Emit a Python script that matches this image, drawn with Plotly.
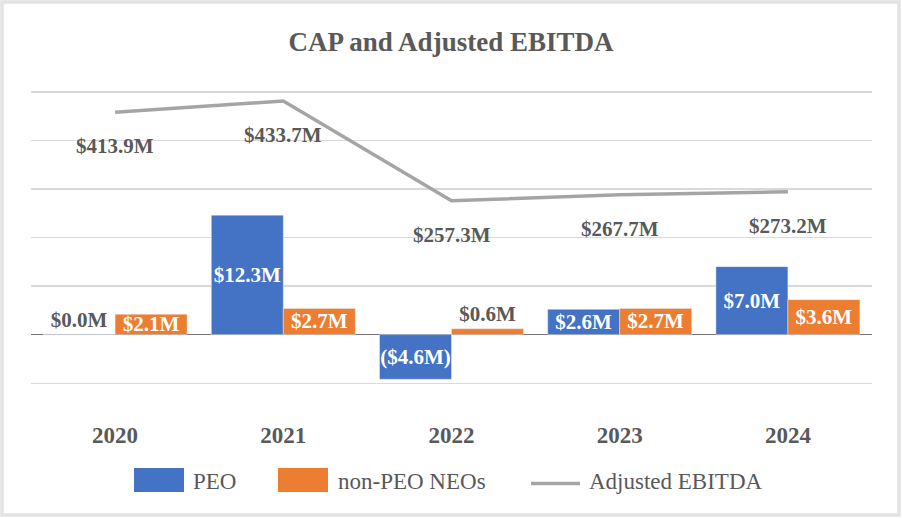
import plotly.graph_objects as go

years = ["2020", "2021", "2022", "2023", "2024"]
peo = [0.0, 12.3, -4.6, 2.6, 7.0]
neo = [2.1, 2.7, 0.6, 2.7, 3.6]
ebitda = [413.9, 433.7, 257.3, 267.7, 273.2]

series_names = ["PEO", "non-PEO NEOs", "Adjusted EBITDA"]
colors = ["#4472C4", "#ED7D31", "#A5A5A5"]

peo_pos = ["outside", "inside", "inside", "inside", "inside"]
neo_pos = ["inside", "inside", "outside", "inside", "inside"]


def money(v):
    return f"(${abs(v):.1f}M)" if v < 0 else f"${v:.1f}M"


FONT = "Liberation Serif"
GRAY = "#595959"
W, H = 902, 518
L, R, T, B = 31, 30, 87, 130
PW, PH = W - L - R, H - T - B
BOTTOM = H - B


def px(xp):
    return (xp - L) / PW


def py(yp):
    return (BOTTOM - yp) / PH


lbl_in = dict(family=FONT, size=21, color="white", weight="bold")
lbl_out = dict(family=FONT, size=21, color=GRAY, weight="bold")

fig = go.Figure()
fig.add_trace(go.Bar(
    name=series_names[0], x=years, y=peo, marker_color=colors[0],
    text=[money(v) for v in peo], textposition=peo_pos, textangle=0,
    insidetextanchor="middle", cliponaxis=False,
    insidetextfont=lbl_in, outsidetextfont=lbl_out,
    hoverinfo="skip", showlegend=False,
))
fig.add_trace(go.Bar(
    name=series_names[1], x=years, y=neo, marker_color=colors[1],
    text=[money(v) for v in neo], textposition=neo_pos, textangle=0,
    insidetextanchor="middle", cliponaxis=False,
    insidetextfont=lbl_in, outsidetextfont=lbl_out,
    hoverinfo="skip", showlegend=False,
))
fig.add_trace(go.Scatter(
    name=series_names[2], x=years, y=ebitda, yaxis="y2", mode="lines",
    line=dict(color=colors[2], width=3.5), hoverinfo="skip", showlegend=False,
))

for i, v in enumerate(ebitda):
    fig.add_annotation(
        x=i, y=v, xref="x", yref="y2", text=money(v), showarrow=False,
        yshift=-34, font=lbl_out,
    )

# legend (drawn to match the original's large swatches)
leg_font = dict(family=FONT, size=23, color=GRAY)
leg_y = 481
fig.add_shape(type="rect", xref="paper", yref="paper",
              x0=px(134), x1=px(184), y0=py(492), y1=py(468),
              fillcolor=colors[0], line=dict(width=0))
fig.add_annotation(x=px(191), y=py(leg_y), xref="paper", yref="paper",
                   xanchor="left", yanchor="middle", showarrow=False,
                   text=series_names[0], font=leg_font)
fig.add_shape(type="rect", xref="paper", yref="paper",
              x0=px(278), x1=px(328), y0=py(492), y1=py(468),
              fillcolor=colors[1], line=dict(width=0))
fig.add_annotation(x=px(336), y=py(leg_y), xref="paper", yref="paper",
                   xanchor="left", yanchor="middle", showarrow=False,
                   text=series_names[1], font=leg_font)
fig.add_shape(type="line", xref="paper", yref="paper",
              x0=px(531), x1=px(580), y0=py(483.5), y1=py(483.5),
              line=dict(color=colors[2], width=3.5))
fig.add_annotation(x=px(587), y=py(leg_y), xref="paper", yref="paper",
                   xanchor="left", yanchor="middle", showarrow=False,
                   text=series_names[2], font=leg_font)

# outer chart border
fig.add_shape(
    type="rect", xref="paper", yref="paper", layer="below",
    x0=px(2), x1=px(W - 3), y0=py(H - 3), y1=py(2),
    line=dict(color="#E3E3E3", width=3.5), fillcolor="rgba(0,0,0,0)",
)

fig.update_layout(
    width=W, height=H,
    margin=dict(l=L, r=R, t=T, b=B),
    paper_bgcolor="white", plot_bgcolor="white",
    barmode="group", bargap=0.144, bargroupgap=0,
    uniformtext=dict(mode="show", minsize=21),
    title=dict(
        text="CAP and Adjusted EBITDA", x=0.5, xanchor="center",
        y=1 - 42 / H, yanchor="middle", yref="container",
        font=dict(family=FONT, size=27, color=GRAY, weight="bold"),
    ),
    font=dict(family=FONT, color=GRAY),
    xaxis=dict(
        type="category", range=[-0.5, 4.5], showgrid=False, showline=False,
        ticks="", ticklabelstandoff=31,
        tickfont=dict(family=FONT, size=23, color=GRAY, weight="bold"),
    ),
    yaxis=dict(
        range=[-5.5, 25.5], tick0=0, dtick=5, showticklabels=False,
        showgrid=True, gridcolor="#D9D9D9", gridwidth=1.3,
        zeroline=True, zerolinecolor="#767676", zerolinewidth=1.5,
    ),
    yaxis2=dict(
        range=[-74.2, 458.5], overlaying="y", side="right",
        showgrid=False, showticklabels=False, zeroline=False, visible=False,
    ),
    showlegend=False,
)

fig.write_html(
    "out.html",
    config={"displayModeBar": False, "staticPlot": True},
    post_script="document.body.style.margin='0';document.body.style.padding='0';",
)
